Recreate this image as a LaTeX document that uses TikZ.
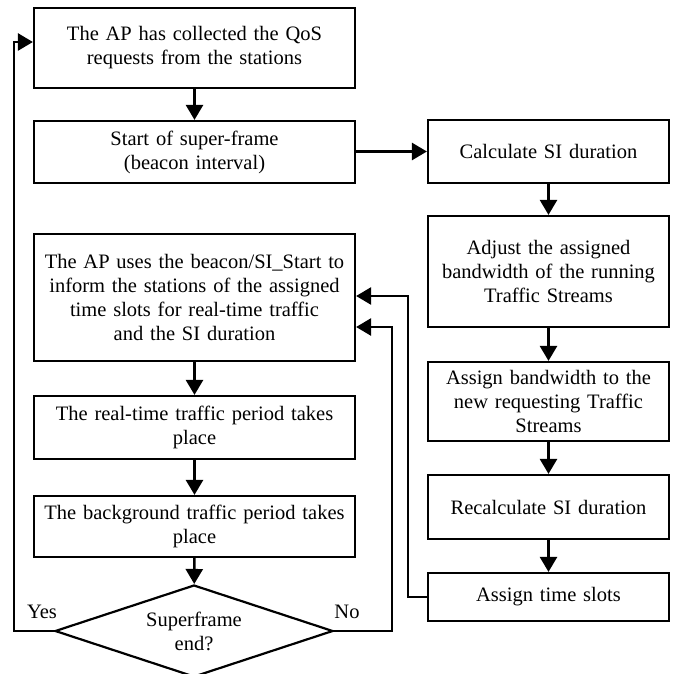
\documentclass[tikz,border=0pt]{standalone}
\usepackage{fontspec}
\setmainfont{Liberation Serif}
\usetikzlibrary{shapes.geometric,arrows.meta}
\begin{document}
\begin{tikzpicture}[x=1pt,y=-1pt,
  box/.style={draw,line width=2.2pt,align=center,inner sep=0pt,
    font=\fontsize{20.5}{24}\selectfont},
  lbox/.style={box,minimum width=321pt,text width=318pt},
  rbox/.style={box,minimum width=241pt,text width=238pt},
  flow/.style={line width=2.6pt,-{Triangle[length=15pt,width=17pt]}},
  lbl/.style={font=\fontsize{20.5}{24}\selectfont}]
\useasboundingbox (0,0) rectangle (672,674);
\node[lbox,minimum height=80pt] (b1) at (194.5,48) {The AP has collected the QoS\\requests from the stations};
\node[lbox,minimum height=62pt] (b2) at (194.5,152) {Start of super-frame\\(beacon interval)};
\node[lbox,minimum height=127pt] (b3) at (194.5,297.5) {The AP uses the beacon/SI\_Start to\\inform the stations of the assigned\\time slots for real-time traffic\\and the SI duration};
\node[lbox,minimum height=63pt] (b4) at (194.5,427.5) {The real-time traffic period takes\\place};
\node[lbox,minimum height=61pt] (b5) at (194.5,526.5) {The background traffic period takes\\place};
\node[draw,diamond,line width=2.2pt,aspect=3.02,minimum width=278pt,minimum height=92pt,inner sep=0pt,align=center,font=\fontsize{20.5}{24}\selectfont] (d) at (194,631) {Superframe\\end?};
\node[rbox,minimum height=63pt] (c1) at (548.5,151.5) {Calculate SI duration};
\node[rbox,minimum height=111pt] (c2) at (548.5,271.5) {Adjust the assigned\\bandwidth of the running\\Traffic Streams};
\node[rbox,minimum height=79pt] (c3) at (548.5,401.5) {Assign bandwidth to the\\new requesting Traffic\\Streams};
\node[rbox,minimum height=64pt] (c4) at (548.5,507) {Recalculate SI duration};
\node[rbox,minimum height=48pt] (c5) at (548.5,597) {Assign time slots};
\coordinate (yl) at (14,631);
\coordinate (yt) at (14,42);
\coordinate (nr) at (392,631);
\coordinate (nt) at (392,327);
\coordinate (ar) at (408,597);
\coordinate (at) at (408,296);
\draw[flow] (b1) -- (b2);
\draw[flow] (b2.east |- c1.west) -- (c1.west);
\draw[flow] (c1) -- (c2);
\draw[flow] (c2) -- (c3);
\draw[flow] (c3) -- (c4);
\draw[flow] (c4) -- (c5);
\draw[flow] (c5.west) -- (ar) -- (at) -- (b3.east |- at);
\draw[flow] (d.east) -- (nr) -- (nt) -- (b3.east |- nt);
\draw[flow] (b3) -- (b4);
\draw[flow] (b4) -- (b5);
\draw[flow] (b5) -- (d);
\draw[flow] (d.west) -- (yl) -- (yt) -- (b1.west |- yt);
\node[lbl] (yes) at (42,612) {Yes};
\node[lbl] (no) at (347,612) {No};
\end{tikzpicture}
\end{document}
